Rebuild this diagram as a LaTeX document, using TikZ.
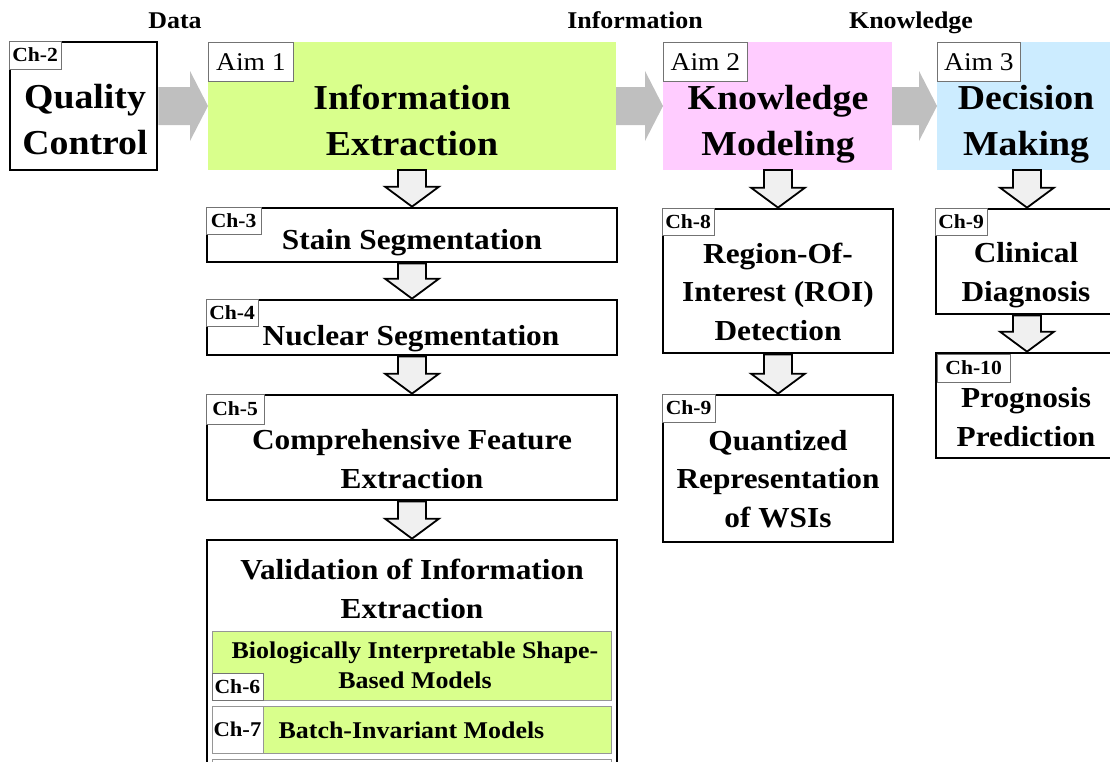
\documentclass[tikz,border=0pt]{standalone}
\usepackage{fontspec}
\setmainfont[FakeStretch=1.08]{Liberation Serif}
\usetikzlibrary{calc}
\definecolor{aimgreen}{RGB}{217,255,140}
\definecolor{aimpink}{RGB}{255,204,255}
\definecolor{aimblue}{RGB}{204,236,255}
\definecolor{arrgray}{RGB}{191,191,191}
\definecolor{dfill}{RGB}{240,240,240}
\definecolor{lblgray}{RGB}{115,115,115}
\definecolor{subgray}{RGB}{150,150,150}
\newcommand\fs[2]{\fontsize{#1}{#2}\selectfont}
\newcommand\harrow[2]{\fill[harr] let \p1=(#1.east), \p2=(#2.west) in
  (\x1,\y1-19pt) -- (\x2-18pt,\y1-19pt) -- (\x2-18pt,\y1-35pt) -- (\x2,\y1)
  -- (\x2-18pt,\y1+35pt) -- (\x2-18pt,\y1+19pt) -- (\x1,\y1+19pt) -- cycle;}
\newcommand\varrow[2]{\draw[darr] let \p1=(#1.south), \p2=(#2.north) in
  (\x2-14pt,\y1) -- (\x2+14pt,\y1) -- (\x2+14pt,\y2+20pt) -- (\x2+27pt,\y2+20pt)
  -- (\x2,\y2) -- (\x2-27pt,\y2+20pt) -- (\x2-14pt,\y2+20pt) -- cycle;}
\begin{document}
\begin{tikzpicture}[x=1pt,y=-1pt,
  chbox/.style={draw, line width=2.7pt, fill=white, inner sep=0pt, rectangle},
  aimbox/.style={inner sep=0pt, outer sep=0pt, rectangle},
  subbox/.style={draw=subgray, line width=1pt, fill=aimgreen, inner sep=0pt, rectangle},
  lbl/.style={draw=lblgray, line width=0.9pt, fill=white, inner sep=0pt, font=\fs{20}{24}\bfseries},
  aimlbl/.style={draw=lblgray, line width=0.9pt, fill=white, inner sep=0pt, font=\fs{25.5}{30}},
  title/.style={font=\fs{35}{46}\bfseries, align=center, inner sep=0pt},
  chtext/.style={font=\fs{29}{38.5}\bfseries, align=center, inner sep=0pt},
  subtext/.style={font=\fs{24}{30}\bfseries, align=center, inner sep=0pt},
  toplbl/.style={font=\fs{24}{28}\bfseries, inner sep=0pt},
  harr/.style={fill=arrgray},
  darr/.style={draw, fill=dfill, line width=1.8pt, line join=miter}]
\useasboundingbox (0,0) rectangle (1110,761);
\clip (0,0) rectangle (1110,761);

% top row
\node[chbox, minimum width=147, minimum height=128] (qc) at (83.5,106) {};
\node[aimbox, fill=aimgreen, minimum width=408, minimum height=128] (aim1) at (412,106) {};
\node[aimbox, fill=aimpink, minimum width=229, minimum height=128] (aim2) at (777.5,106) {};
\node[aimbox, fill=aimblue, minimum width=181, minimum height=128] (aim3) at (1027.5,106) {};

\node[lbl, minimum width=52, minimum height=28, anchor=north west] (lqc) at (qc.north west) {Ch-2};
\node[aimlbl, minimum width=85, minimum height=39, anchor=north west] (la1) at (aim1.north west) {Aim 1};
\node[aimlbl, minimum width=84, minimum height=39, anchor=north west] (la2) at (aim2.north west) {Aim 2};
\node[aimlbl, minimum width=83, minimum height=39, anchor=north west] (la3) at (aim3.north west) {Aim 3};

\node[title] (tqc) at (85,120) {Quality\\Control};
\node[title] (ta1) at (412,120) {Information\\Extraction};
\node[title] (ta2) at (778,124) {Knowledge\\Modeling};
\node[title] (ta3) at (1026,124) {Decision\\Making};

\node[toplbl, anchor=base] (dData) at (175,28) {Data};
\node[toplbl, anchor=base] (dInfo) at (635,28) {Information};
\node[toplbl, anchor=base] (dKnow) at (911,28) {Knowledge};

\harrow{qc}{aim1}
\harrow{aim1}{aim2}
\harrow{aim2}{aim3}

% column 1
\node[chbox, minimum width=410, minimum height=54] (c3) at (412,235) {};
\node[lbl, minimum width=55, minimum height=27, anchor=north west] (l3) at (c3.north west) {Ch-3};
\node[chtext, anchor=base] (t3) at (412,249) {Stain Segmentation};

\node[chbox, minimum width=410, minimum height=55] (c4) at (412,327.5) {};
\node[lbl, minimum width=52, minimum height=27, anchor=north west] (l4) at (c4.north west) {Ch-4};
\node[chtext, anchor=base] (t4) at (411,345.5) {Nuclear Segmentation};

\node[chbox, minimum width=410, minimum height=105] (c5) at (412,447.5) {};
\node[lbl, minimum width=58, minimum height=30, anchor=north west] (l5) at (c5.north west) {Ch-5};
\node[chtext] (t5) at (412,459) {Comprehensive Feature\\Extraction};

\node[chbox, minimum width=410, minimum height=260] (val) at (412,670) {};
\node[chtext] (tv) at (412,589) {Validation of Information\\Extraction};

\node[subbox, minimum width=399, minimum height=69] (c6) at (411.5,665.5) {};
\node[lbl, draw=lblgray, minimum width=51, minimum height=27, anchor=south west] (l6) at (c6.south west) {Ch-6};
\node[subtext] (t6) at (415,665.5) {Biologically Interpretable Shape-\\Based Models};

\node[subbox, minimum width=399, minimum height=47] (c7) at (411.5,729.5) {};
\node[lbl, draw=subgray, font=\fs{21}{24}\bfseries, minimum width=51, minimum height=47, anchor=west] (l7) at (c7.west) {Ch-7};
\node[subtext, anchor=base] (t7) at (411.5,738) {Batch-Invariant Models};

\node[subbox, fill=white, minimum width=399, minimum height=42] (cx) at (411.5,780) {};

\varrow{aim1}{c3}
\varrow{c3}{c4}
\varrow{c4}{c5}
\varrow{c5}{val}

% column 2
\node[chbox, minimum width=230, minimum height=144] (c8) at (778,281) {};
\node[lbl, minimum width=52, minimum height=27, anchor=north west] (l8) at (c8.north west) {Ch-8};
\node[chtext] (t8) at (778,291.5) {Region-Of-\\Interest (ROI)\\Detection};

\node[chbox, minimum width=230, minimum height=147] (c9) at (778,468.5) {};
\node[lbl, minimum width=53, minimum height=28, anchor=north west] (l9) at (c9.north west) {Ch-9};
\node[chtext] (t9) at (778,479) {Quantized\\Representation\\of WSIs};

\varrow{aim2}{c8}
\varrow{c8}{c9}

% column 3
\node[chbox, minimum width=182, minimum height=105] (c9b) at (1027,261.5) {};
\node[lbl, minimum width=52, minimum height=27, anchor=north west] (l9b) at (c9b.north west) {Ch-9};
\node[chtext] (t9b) at (1026,275) {Clinical\\Diagnosis};

\node[chbox, minimum width=182, minimum height=105] (c10) at (1027,405.5) {};
\node[lbl, minimum width=73, minimum height=28, anchor=north west] (l10) at ($(c10.north west)+(2,2)$) {Ch-10};
\node[chtext] (t10) at (1026,417) {Prognosis\\Prediction};

\varrow{aim3}{c9b}
\varrow{c9b}{c10}
\end{tikzpicture}
\end{document}
